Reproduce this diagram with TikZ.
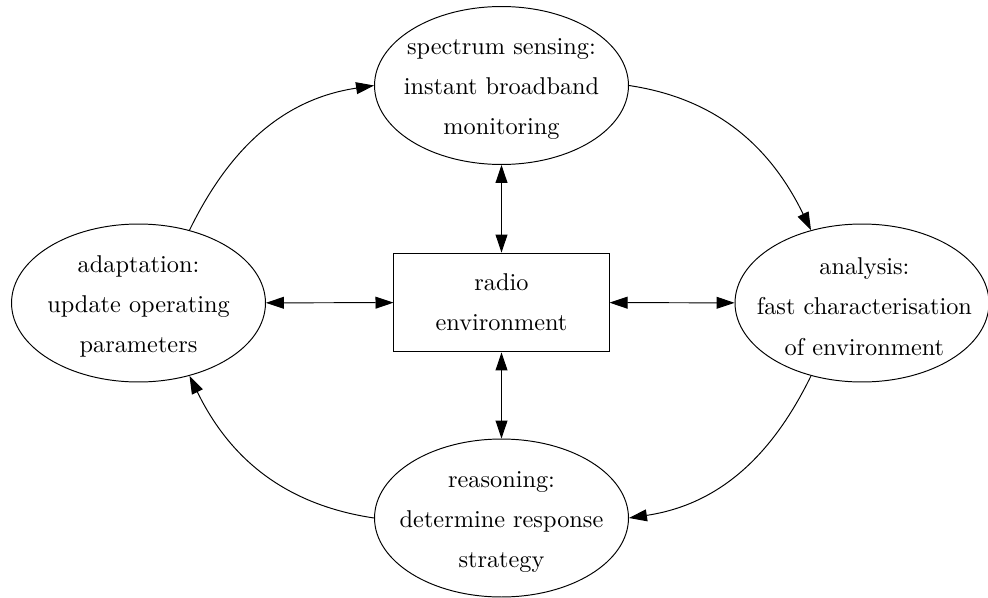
\documentclass[tikz,border=0pt]{standalone}
\usetikzlibrary{shapes.geometric,arrows.meta}
\tikzset{
  ell/.style={draw,ellipse,inner sep=0pt,minimum width=104.5pt,minimum height=65pt},
  txt/.style={align=center,inner sep=0pt,font=\fontsize{10}{16.5}\selectfont},
  envbox/.style={draw,rectangle,inner sep=0pt,minimum width=88.5pt,minimum height=40.7pt,align=center,font=\fontsize{10}{16.5}\selectfont},
  arr/.style={-{Triangle[length=7.4pt,width=4.9pt]}},
  darr/.style={{Triangle[length=7.4pt,width=4.9pt]}-{Triangle[length=7.4pt,width=4.9pt]}},
}
\begin{document}
\begin{tikzpicture}[x=0.4115pt,y=0.4115pt]
\useasboundingbox (0,0) rectangle (988,597);
\node[ell] (sense) at (501.5,511.5) {};
\node[ell] (adapt) at (138.5,294) {};
\node[ell] (anal) at (862,294) {};
\node[ell] (reason) at (501.5,79) {};
\node[envbox] (env) at (501.5,294.5) {radio\\environment};
\node[txt] (tsense) at ([yshift=-1.5pt]sense.center) {spectrum sensing:\\instant broadband\\monitoring};
\node[txt] (tadapt) at ([yshift=-1.5pt]adapt.center) {adaptation:\\update operating\\parameters};
\node[txt] (tanal) at ([yshift=-1.5pt,xshift=1pt]anal.center) {analysis:\\fast characterisation\\of environment};
\node[txt] (treason) at ([yshift=-1.5pt]reason.center) {reasoning:\\determine response\\strategy};
\draw[darr] (sense) -- (env);
\draw[darr] (reason) -- (env);
\draw[darr] (adapt) -- (env);
\draw[darr] (anal) -- (env);
\draw[arr] (adapt.55) to[out=64,in=188.5] (sense.west);
\draw[arr] (sense.east) to[out=-8.5,in=116] (anal.125);
\draw[arr] (anal.235) to[out=244,in=8.5] (reason.east);
\draw[arr] (reason.west) to[out=171.5,in=296] (adapt.305);
\end{tikzpicture}
\end{document}
